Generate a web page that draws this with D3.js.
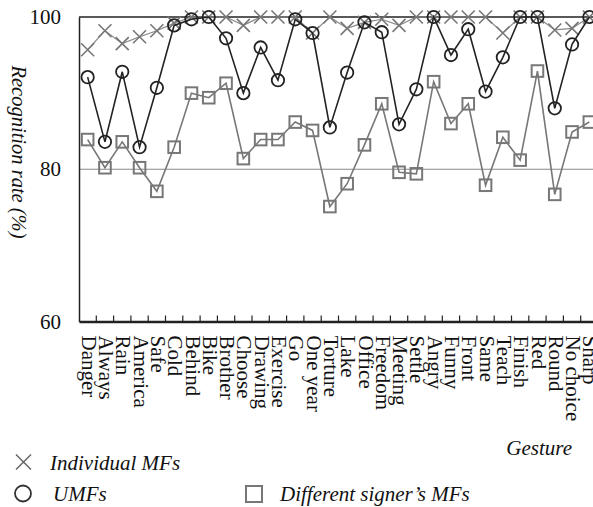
<!DOCTYPE html>
<html>
<head>
<meta charset="utf-8">
<script src="https://cdn.jsdelivr.net/npm/d3@7/dist/d3.min.js"></script>
<style>
  body { margin: 0; background: #fff; }
  svg { display: block; }
  text { font-family: "Liberation Serif", "Times New Roman", serif; fill: #111; }
  .it { font-family: "Liberation Serif", "Times New Roman", serif; font-style: italic; }
</style>
</head>
<body>
<svg id="chart" width="593" height="507"></svg>
<script>
const categories = ["Danger","Always","Rain","America","Safe","Cold","Behind","Bike","Brother","Choose",
  "Drawing","Exercise","Go","One year","Torture","Lake","Office","Freedom","Meeting","Settle",
  "Angry","Funny","Front","Same","Teach","Finish","Red","Round","No choice","Sharp"];

const individualMFs = [95.7,98.2,96.5,97.4,98.2,99.2,100,100,100,98.9,
  100,100,100,97.9,100,98.5,99.3,99.7,98.9,100,
  100,100,100,100,97.9,100,100,98.3,98.5,100];

const UMFs = [92.1,83.6,92.8,82.9,90.7,98.9,99.7,100,97.2,90.0,
  96.0,91.7,99.7,97.9,85.5,92.7,99.3,98.0,85.9,90.5,
  100,95.0,98.4,90.2,94.7,100,100,88.0,96.4,100];

const differentSignerMFs = [83.9,80.2,83.6,80.2,77.1,82.9,90.0,89.4,91.3,81.4,
  83.9,83.9,86.2,85.1,75.1,78.1,83.2,88.6,79.6,79.4,
  91.5,86.0,88.6,77.9,84.2,81.2,92.9,76.7,84.9,86.2];

const yTicks = [60, 80, 100];

const svg = d3.select("#chart");
const plotLeft = 79, plotTop = 17, plotBottom = 321.5, step = 17.3;

const x = d3.scaleBand().domain(categories).range([plotLeft, plotLeft + step * categories.length]).padding(0);
const y = d3.scaleLinear().domain([60, 100]).range([plotBottom, plotTop]);
const cx = d => x(d) + x.bandwidth() / 2;

// gridline at 80 and top line at 100
svg.append("line").attr("x1", plotLeft).attr("x2", 593).attr("y1", y(80)).attr("y2", y(80))
  .attr("stroke", "#888").attr("stroke-width", 1.2);
svg.append("line").attr("x1", plotLeft).attr("x2", 593).attr("y1", y(100)).attr("y2", y(100))
  .attr("stroke", "#222").attr("stroke-width", 1.5);

// Y axis
const yAxis = svg.append("g").attr("transform", `translate(${plotLeft},0)`)
  .call(d3.axisLeft(y).tickValues(yTicks).tickSize(0).tickPadding(18).tickFormat(d3.format("d")));
yAxis.select(".domain").attr("stroke", "#222").attr("stroke-width", 1.5);
yAxis.selectAll("text").style("font-size", "21px").attr("font-family", "Liberation Serif").attr("fill", "#111");

// X axis
const xAxis = svg.append("g").attr("transform", `translate(0,${plotBottom})`)
  .call(d3.axisBottom(x).tickSize(0).tickSizeOuter(0));
xAxis.select(".domain").attr("stroke", "#222").attr("stroke-width", 2.5);
xAxis.selectAll(".tick text")
  .attr("transform", "rotate(90)")
  .attr("text-anchor", "start")
  .attr("x", 14).attr("y", -1.5).attr("dy", "0.35em")
  .style("font-size", "21px").attr("font-family", "Liberation Serif").attr("fill", "#111");

// boundary ticks
svg.append("g").selectAll("line").data(categories.slice(1)).join("line")
  .attr("x1", d => x(d)).attr("x2", d => x(d))
  .attr("y1", plotBottom).attr("y2", plotBottom - 6)
  .attr("stroke", "#222").attr("stroke-width", 1.2);

// axis titles
svg.append("text").attr("class", "it").attr("transform", "translate(19,152) rotate(90)")
  .attr("text-anchor", "middle").attr("dy", "0.35em")
  .style("font-size", "20.5px").text("Recognition rate (%)");
svg.append("text").attr("class", "it").attr("x", 572).attr("y", 455).attr("text-anchor", "end")
  .style("font-size", "21px").text("Gesture");

const line = vals => d3.line().x((d, i) => cx(categories[i])).y(d => y(d))(vals);

// Individual MFs
svg.append("path").attr("d", line(individualMFs)).attr("fill", "none")
  .attr("stroke", "#888").attr("stroke-width", 1.2);
const crossPath = (s) => `M${-s},${-s}L${s},${s}M${-s},${s}L${s},${-s}`;
svg.append("g").selectAll("path").data(individualMFs).join("path")
  .attr("transform", (d, i) => `translate(${cx(categories[i])},${y(d)})`)
  .attr("d", crossPath(6.5)).attr("stroke", "#777").attr("stroke-width", 1.6).attr("fill", "none");

// Different signer's MFs
svg.append("path").attr("d", line(differentSignerMFs)).attr("fill", "none")
  .attr("stroke", "#777").attr("stroke-width", 1.6);
svg.append("g").selectAll("rect").data(differentSignerMFs).join("rect")
  .attr("x", (d, i) => cx(categories[i]) - 5.8).attr("y", d => y(d) - 5.8)
  .attr("width", 11.6).attr("height", 11.6)
  .attr("fill", "none").attr("stroke", "#777").attr("stroke-width", 2);

// UMFs
svg.append("path").attr("d", line(UMFs)).attr("fill", "none")
  .attr("stroke", "#222").attr("stroke-width", 1.6);
svg.append("g").selectAll("circle").data(UMFs).join("circle")
  .attr("cx", (d, i) => cx(categories[i])).attr("cy", d => y(d)).attr("r", 6.2)
  .attr("fill", "none").attr("stroke", "#222").attr("stroke-width", 1.8);

// legend
const lg = svg.append("g");
lg.append("path").attr("transform", "translate(23.5,462)").attr("d", crossPath(7.5))
  .attr("stroke", "#666").attr("stroke-width", 1.5).attr("fill", "none");
lg.append("text").attr("class", "it").attr("x", 50).attr("y", 470).style("font-size", "21px").text("Individual MFs");
lg.append("circle").attr("cx", 23).attr("cy", 493.5).attr("r", 8)
  .attr("fill", "none").attr("stroke", "#333").attr("stroke-width", 1.8);
lg.append("text").attr("class", "it").attr("x", 53).attr("y", 501).style("font-size", "21px").text("UMFs");
lg.append("rect").attr("x", 246).attr("y", 486).attr("width", 16).attr("height", 16)
  .attr("fill", "none").attr("stroke", "#777").attr("stroke-width", 2);
lg.append("text").attr("class", "it").attr("x", 280).attr("y", 501).style("font-size", "21px").text("Different signer’s MFs");
</script>
</body>
</html>
